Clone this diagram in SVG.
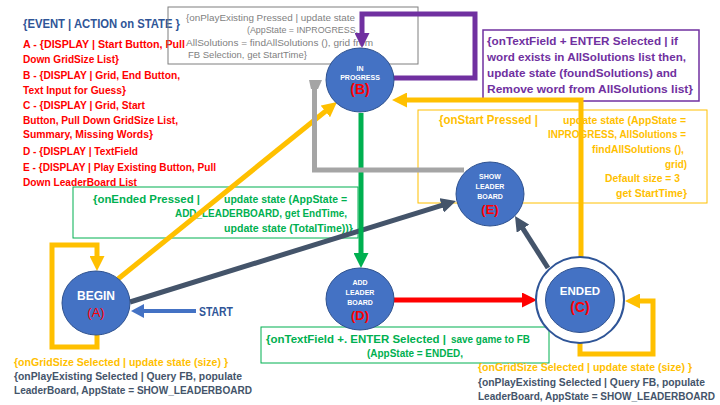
<svg xmlns="http://www.w3.org/2000/svg" width="720" height="405" viewBox="0 0 720 405">
<defs>
<style>
text{font-family:"Liberation Sans",Arial,sans-serif;}
.b{font-weight:bold}
.title{font-size:12.3px;font-weight:bold;fill:#2F5597}
.lg{font-size:11px;font-weight:bold;fill:#FF0000}
.gr{font-size:9.5px;fill:#7F7F7F}
.pu{font-size:11px;font-weight:bold;fill:#7030A0}
.yh{font-size:12px;font-weight:bold;fill:#FFC000}
.ys{font-size:10px;font-weight:bold;fill:#FFC000}
.gh{font-size:11.5px;font-weight:bold;fill:#00B050}
.gs{font-size:10px;font-weight:bold;fill:#00B050}
.yb{font-size:10px;font-weight:bold;fill:#FFC000}
.sb{font-size:10px;font-weight:bold;fill:#44546A}
.st{font-size:12px;font-weight:bold;fill:#2F5597}
.nd{fill:#4472C4;stroke:#2F528F;stroke-width:1}
.nl{fill:#FFFFFF;font-weight:bold;text-anchor:middle}
.nl7{font-size:7px}
.lt{fill:#FF0000;text-anchor:middle}
.box{fill:none}
.c{fill:none;stroke-linejoin:miter}
</style>
<marker id="ay" markerUnits="userSpaceOnUse" markerWidth="15" markerHeight="15" viewBox="0 0 15 15" refX="1" refY="7.5" orient="auto"><path d="M0,0 L15,7.5 L0,15 z" fill="#FFC000"/></marker>
<marker id="ag" markerUnits="userSpaceOnUse" markerWidth="15" markerHeight="15" viewBox="0 0 15 15" refX="1" refY="7.5" orient="auto"><path d="M0,0 L15,7.5 L0,15 z" fill="#00B050"/></marker>
<marker id="ap" markerUnits="userSpaceOnUse" markerWidth="15" markerHeight="15" viewBox="0 0 15 15" refX="1" refY="7.5" orient="auto"><path d="M0,0 L15,7.5 L0,15 z" fill="#7030A0"/></marker>
<marker id="ar" markerUnits="userSpaceOnUse" markerWidth="15" markerHeight="15" viewBox="0 0 15 15" refX="1" refY="7.5" orient="auto"><path d="M0,0 L15,7.5 L0,15 z" fill="#FF0000"/></marker>
<marker id="as" markerUnits="userSpaceOnUse" markerWidth="15" markerHeight="15" viewBox="0 0 15 15" refX="1" refY="7.5" orient="auto"><path d="M0,0 L15,7.5 L0,15 z" fill="#44546A"/></marker>
<marker id="ab" markerUnits="userSpaceOnUse" markerWidth="13" markerHeight="14" viewBox="0 0 13 14" refX="1" refY="7" orient="auto"><path d="M0,0 L13,7 L0,14 z" fill="#4472C4"/></marker>
</defs>
<rect width="720" height="405" fill="#FFFFFF"/>

<g id="legend">
<text x="23" y="27.5" class="title" textLength="157" lengthAdjust="spacingAndGlyphs">{EVENT | ACTION on STATE }</text>
<text x="23" y="48" class="lg" textLength="162" lengthAdjust="spacingAndGlyphs">A - {DISPLAY | Start Button, Pull</text>
<text x="23" y="63" class="lg" textLength="96" lengthAdjust="spacingAndGlyphs">Down GridSize List}</text>
<text x="23" y="79" class="lg" textLength="157" lengthAdjust="spacingAndGlyphs">B - {DISPLAY | Grid, End Button,</text>
<text x="23" y="94" class="lg" textLength="103" lengthAdjust="spacingAndGlyphs">Text Input for Guess}</text>
<text x="23" y="109" class="lg" textLength="122" lengthAdjust="spacingAndGlyphs">C - {DISPLAY | Grid, Start</text>
<text x="23" y="124" class="lg" textLength="155" lengthAdjust="spacingAndGlyphs">Button, Pull Down GridSize List,</text>
<text x="23" y="138" class="lg" textLength="130" lengthAdjust="spacingAndGlyphs">Summary, Missing Words}</text>
<text x="23" y="155" class="lg" textLength="115" lengthAdjust="spacingAndGlyphs">D - {DISPLAY | TextField</text>
<text x="23" y="171" class="lg" textLength="193" lengthAdjust="spacingAndGlyphs">E - {DISPLAY | Play Existing Button, Pull</text>
<text x="23" y="186" class="lg" textLength="114" lengthAdjust="spacingAndGlyphs">Down LeaderBoard List</text>
</g>

<g id="label-playexisting">
<rect x="168" y="7" width="250" height="57" class="box" stroke="#7F7F7F" stroke-width="1"/>
<text x="186" y="20.5" class="gr" textLength="169" lengthAdjust="spacingAndGlyphs">{onPlayExisting Pressed |  update state</text>
<text x="247" y="32.5" class="gr" textLength="111" lengthAdjust="spacingAndGlyphs">(AppState =  INPROGRESS,</text>
<text x="186" y="45.5" class="gr" textLength="187" lengthAdjust="spacingAndGlyphs">AllSolutions =  findAllSolutions (), grid from</text>
<text x="188" y="57.5" class="gr" textLength="119" lengthAdjust="spacingAndGlyphs">FB Selection, get StartTime}</text>
</g>

<g id="label-textfield-inprogress">
<rect x="483" y="30" width="216" height="71" class="box" stroke="#7030A0" stroke-width="1.5"/>
<text x="487" y="45" class="pu" textLength="191" lengthAdjust="spacingAndGlyphs">{onTextField + ENTER Selected |  if</text>
<text x="487" y="61" class="pu" textLength="199" lengthAdjust="spacingAndGlyphs">word exists in AllSolutions list then,</text>
<text x="487" y="77" class="pu" textLength="190" lengthAdjust="spacingAndGlyphs">update state (foundSolutions) and</text>
<text x="487" y="93" class="pu" textLength="206" lengthAdjust="spacingAndGlyphs">Remove word from AllSolutions list}</text>
</g>

<g id="label-onstart">
<rect x="418" y="110" width="289" height="93" class="box" stroke="#FFC000" stroke-width="1"/>
<text x="439" y="124" class="yh" textLength="99" lengthAdjust="spacingAndGlyphs">{onStart Pressed |</text>
<text x="563" y="123.6" class="ys" textLength="123" lengthAdjust="spacingAndGlyphs">update state (AppState =</text>
<text x="548" y="137.6" class="ys" textLength="138" lengthAdjust="spacingAndGlyphs">INPROGRESS, AllSolutions =</text>
<text x="592" y="152.6" class="ys" textLength="92" lengthAdjust="spacingAndGlyphs">findAllSolutions (),</text>
<text x="665" y="167.6" class="ys" textLength="22" lengthAdjust="spacingAndGlyphs">grid)</text>
<text x="605" y="181.6" class="ys" textLength="75" lengthAdjust="spacingAndGlyphs">Default size = 3</text>
<text x="616" y="196.6" class="ys" textLength="71" lengthAdjust="spacingAndGlyphs">get StartTime}</text>
</g>

<g id="label-onended">
<rect x="73" y="187" width="285" height="51" class="box" stroke="#00B050" stroke-width="1"/>
<text x="93" y="203.3" class="gh" textLength="107" lengthAdjust="spacingAndGlyphs">{onEnded Pressed |</text>
<text x="224" y="203" class="gs" textLength="123" lengthAdjust="spacingAndGlyphs">update state (AppState =</text>
<text x="175" y="216.6" class="gs" textLength="172" lengthAdjust="spacingAndGlyphs">ADD_LEADERBOARD,  get EndTime,</text>
<text x="224" y="231.6" class="gs" textLength="129" lengthAdjust="spacingAndGlyphs">update state (TotalTime))}</text>
</g>

<g id="label-textfield-add">
<rect x="261" y="327" width="288" height="36" class="box" stroke="#00B050" stroke-width="1"/>
<text x="266" y="343" class="gh" textLength="180" lengthAdjust="spacingAndGlyphs">{onTextField +. ENTER Selected |</text>
<text x="451" y="342.6" class="gs" textLength="79" lengthAdjust="spacingAndGlyphs">save game to FB</text>
<text x="367" y="356.6" class="gs" textLength="96" lengthAdjust="spacingAndGlyphs">(AppState =  ENDED,</text>
</g>

<g id="label-begin-loops">
<text x="14" y="365.5" class="yb" textLength="214" lengthAdjust="spacingAndGlyphs">{onGridSize Selected |  update state (size) }</text>
<text x="14" y="380" class="sb" textLength="228" lengthAdjust="spacingAndGlyphs">{onPlayExisting Selected | Query FB, populate</text>
<text x="14" y="394" class="sb" textLength="238" lengthAdjust="spacingAndGlyphs">LeaderBoard, AppState = SHOW_LEADERBOARD</text>
</g>

<g id="label-ended-loops">
<text x="478" y="370.5" class="yb" textLength="214" lengthAdjust="spacingAndGlyphs">{onGridSize Selected |  update state (size) }</text>
<text x="478" y="386" class="sb" textLength="227" lengthAdjust="spacingAndGlyphs">{onPlayExisting Selected | Query FB, populate</text>
<text x="478" y="399.5" class="sb" textLength="237" lengthAdjust="spacingAndGlyphs">LeaderBoard, AppState = SHOW_LEADERBOARD</text>
</g>

<g id="label-start">
<text x="199" y="316" class="st" textLength="34" lengthAdjust="spacingAndGlyphs">START</text>
</g>

<g id="connectors">
<path class="c" d="M196,311 H143" stroke="#4472C4" stroke-width="4" marker-end="url(#ab)"/>
<path class="c" d="M97,335 V347 H52 V245 H97 V257" stroke="#FFC000" stroke-width="5" marker-end="url(#ay)"/>
<path class="c" d="M118,279 L326.1,110.8" stroke="#FFC000" stroke-width="5" marker-end="url(#ay)"/>
<path class="c" d="M130,302 L442.6,205.1" stroke="#44546A" stroke-width="5" marker-end="url(#as)"/>
<path class="c" d="M361,113 V254" stroke="#00B050" stroke-width="5" marker-end="url(#ag)"/>
<path class="c" d="M393,78 H475 V14 H362 V34" stroke="#7030A0" stroke-width="5" marker-end="url(#ap)"/>
<path class="c" d="M464,170 H314.5 V88" stroke="#A5A5A5" stroke-width="5"/>
<polygon points="309,80 322,80 318,89 311,89" fill="#A5A5A5"/>
<path class="c" d="M581,257 V100 H406" stroke="#FFC000" stroke-width="5" marker-end="url(#ay)"/>
<path class="c" d="M548,268 L522.5,227.8" stroke="#44546A" stroke-width="5" marker-end="url(#as)"/>
<path class="c" d="M394,300 H523" stroke="#FF0000" stroke-width="5" marker-end="url(#ar)"/>
<path class="c" d="M580,342 V354 H653 V301 H639" stroke="#FFC000" stroke-width="5" marker-end="url(#ay)"/>
</g>

<g id="node-begin">
<ellipse cx="96" cy="303" rx="34" ry="32" class="nd"/>
<text x="96" y="300" class="nl" font-size="12">BEGIN</text>
<text x="96" y="317" class="lt" font-size="13">(A)</text>
</g>

<g id="node-inprogress">
<ellipse cx="360" cy="80" rx="34" ry="32" class="nd"/>
<text x="360" y="70.5" class="nl nl7">IN</text>
<text x="360" y="79.5" class="nl nl7">PROGRESS</text>
<text x="360" y="94" class="lt b" font-size="14">(B)</text>
</g>

<g id="node-showleaderboard">
<ellipse cx="490" cy="194" rx="34" ry="32" class="nd"/>
<text x="490" y="178.5" class="nl nl7">SHOW</text>
<text x="490" y="188.5" class="nl nl7">LEADER</text>
<text x="490" y="198.5" class="nl nl7">BOARD</text>
<text x="490" y="214" class="lt b" font-size="13">(E)</text>
</g>

<g id="node-addleaderboard">
<ellipse cx="360" cy="299" rx="34" ry="31" class="nd"/>
<text x="360" y="285" class="nl nl7">ADD</text>
<text x="360" y="295" class="nl nl7">LEADER</text>
<text x="360" y="305" class="nl nl7">BOARD</text>
<text x="360" y="320" class="lt b" font-size="13">(D)</text>
</g>

<g id="node-ended">
<ellipse cx="580" cy="300" rx="44" ry="43" fill="#FFFFFF" stroke="#2F5597" stroke-width="2"/>
<ellipse cx="580" cy="300" rx="34.5" ry="32.5" class="nd"/>
<text x="580" y="295" class="nl" font-size="11.5">ENDED</text>
<text x="580" y="312" class="lt b" font-size="14">(C)</text>
</g>
</svg>
